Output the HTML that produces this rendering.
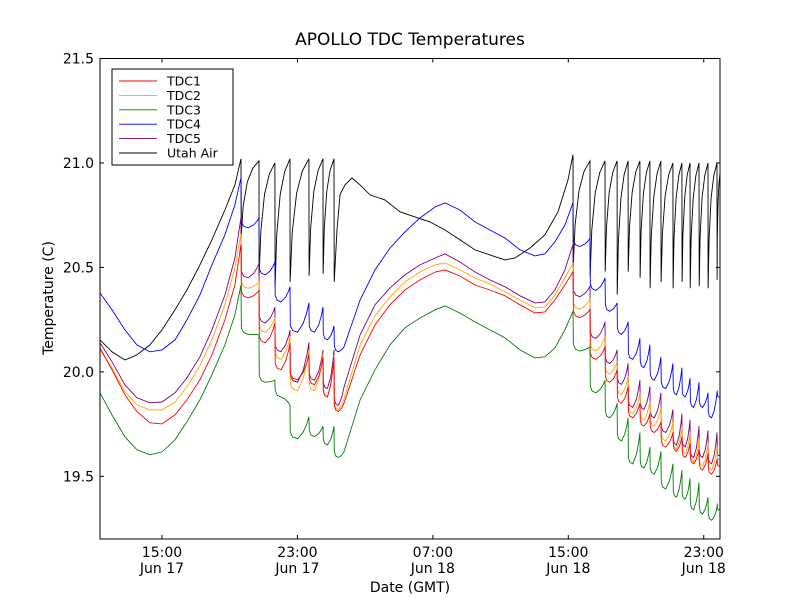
<!DOCTYPE html>
<html><head><meta charset="utf-8"><style>
body{margin:0;background:#fff;}
svg{display:block;font-family:"DejaVu Sans","Liberation Sans",sans-serif;}
</style></head><body>
<svg id="chart" width="800" height="600" viewBox="0 0 800 600">
<rect x="0" y="0" width="800" height="600" fill="#fff"/>
<text x="410" y="45" font-size="17" text-anchor="middle">APOLLO TDC Temperatures</text>
<text x="410" y="592" font-size="14" text-anchor="middle">Date (GMT)</text>
<text transform="translate(53,298) rotate(-90)" font-size="14" text-anchor="middle">Temperature (C)</text>
<g id="series"></g>
<g id="axes"></g>
<g id="legend"></g>
</svg>
<script>
// ---- data ----
const yTicks=[19.5,20.0,20.5,21.0,21.5];
const yTickLabels=["19.5","20.0","20.5","21.0","21.5"];
const xTicks=[15,23,31,39,47];
const xTickLabels1=["15:00","23:00","07:00","15:00","23:00"];
const xTickLabels2=["Jun 17","Jun 17","Jun 18","Jun 18","Jun 18"];

const preTimes=[11.34,12.05,12.81,13.52,14.29,15.0,15.77,16.47,17.24,17.95,18.72,19.31];
const teethA=[19.67,20.73,21.67,22.56,23.68,24.51,25.16];
const midTimes=[25.81,26.70,27.58,28.47,29.35,30.24,31.13,31.72,32.60,33.49,34.37,35.26,36.15,37.03,37.62,38.21,38.80];
const teethB=[39.28,40.28,41.17,41.88,42.53,43.23,43.82,44.47,45.18,45.71,46.19,46.72,47.25,47.78];
const endTime=47.96;

// TDC1 (red)
const tdc1Pre=[20.115,20.01,19.89,19.81,19.756,19.751,19.794,19.866,19.962,20.081,20.249,20.416];
const tdc1PeakA=[20.61,20.39,20.234,20.139,20.081,20.07,20.07];
const tdc1TroughA=[20.354,20.139,20.01,19.962,19.938,19.88,19.81];
const tdc1Mid=[19.866,20.081,20.225,20.321,20.392,20.44,20.478,20.488,20.459,20.416,20.392,20.364,20.321,20.282,20.287,20.344,20.416];
const tdc1PeakB=[20.48,20.30,20.12,20.01,19.93,19.85,19.80,19.76,19.71,19.69,19.66,19.63,19.61,19.58];
const tdc1TroughB=[20.26,20.06,19.95,19.85,19.78,19.74,19.71,19.64,19.62,19.59,19.56,19.53,19.51,19.55];
// TDC2 (orange)
const tdc2Pre=[20.105,20.019,19.904,19.842,19.818,19.818,19.856,19.928,20.029,20.153,20.321,20.498];
const tdc2PeakA=[20.66,20.43,20.26,20.17,20.105,20.09,20.08];
const tdc2TroughA=[20.40,20.19,20.06,19.91,19.91,19.88,19.82];
const tdc2Mid=[19.89,20.129,20.268,20.359,20.431,20.478,20.512,20.522,20.488,20.45,20.421,20.383,20.344,20.306,20.311,20.368,20.45];
const tdc2PeakB=[20.52,20.35,20.17,20.05,19.98,19.90,19.86,19.83,19.76,19.74,19.71,19.68,19.66,19.64];
const tdc2TroughB=[20.30,20.10,19.99,19.89,19.80,19.77,19.74,19.67,19.63,19.61,19.57,19.55,19.53,19.58];
// TDC3 (green)
const tdc3Pre=[19.9,19.794,19.689,19.627,19.603,19.617,19.675,19.761,19.866,19.986,20.129,20.273];
const tdc3PeakA=[20.416,20.177,19.96,19.84,19.785,19.74,19.74];
const tdc3TroughA=[20.18,19.95,19.88,19.68,19.69,19.65,19.59];
const tdc3Mid=[19.627,19.866,20.01,20.129,20.211,20.258,20.297,20.316,20.282,20.239,20.201,20.163,20.105,20.067,20.072,20.115,20.201];
const tdc3PeakB=[20.29,20.12,19.96,19.85,19.78,19.71,19.64,19.62,19.56,19.53,19.49,19.47,19.40,19.35];
const tdc3TroughB=[20.10,19.90,19.78,19.67,19.56,19.54,19.51,19.44,19.40,19.39,19.34,19.32,19.29,19.34];
// TDC4 (blue)
const tdc4Pre=[20.378,20.297,20.201,20.129,20.096,20.105,20.153,20.249,20.368,20.512,20.656,20.799];
const tdc4PeakA=[20.93,20.737,20.526,20.407,20.33,20.31,20.22];
const tdc4TroughA=[20.689,20.464,20.335,20.19,20.19,20.153,20.096];
const tdc4Mid=[20.129,20.344,20.488,20.593,20.67,20.737,20.789,20.809,20.775,20.718,20.679,20.641,20.584,20.555,20.565,20.622,20.703];
const tdc4PeakB=[20.81,20.64,20.45,20.33,20.24,20.16,20.13,20.07,20.04,20.02,19.97,19.95,19.90,19.90];
const tdc4TroughB=[20.60,20.39,20.29,20.18,20.06,20.02,19.96,19.92,19.89,19.88,19.83,19.83,19.78,19.88];
// TDC5 (purple)
const tdc5Pre=[20.139,20.048,19.938,19.876,19.852,19.856,19.9,19.971,20.072,20.201,20.368,20.545];
const tdc5PeakA=[20.74,20.52,20.31,20.20,20.14,20.105,20.105];
const tdc5TroughA=[20.45,20.234,20.096,19.95,19.96,19.92,19.84];
const tdc5Mid=[19.962,20.177,20.321,20.402,20.464,20.512,20.545,20.565,20.526,20.478,20.44,20.407,20.364,20.33,20.335,20.392,20.488];
const tdc5PeakB=[20.61,20.41,20.24,20.105,20.04,19.96,19.93,19.90,19.82,19.80,19.77,19.74,19.72,19.71];
const tdc5TroughB=[20.36,20.16,20.04,19.94,19.83,19.82,19.78,19.71,19.65,19.64,19.59,19.59,19.56,19.60];
// Utah Air (black)
const airPre=[20.153,20.096,20.057,20.081,20.129,20.201,20.297,20.392,20.512,20.632,20.775,20.895];
const airPeakA=[21.02,21.01,21.0,21.02,21.02,21.02,21.02];
const airBottomA=[20.65,20.46,20.41,20.43,20.46,20.47,20.43];
const airMidTimes=[25.34,25.52,25.81,26.22,26.70,27.29,28.17,29.06,29.94,30.83,31.72,32.60,33.49,34.37,35.26,35.85,36.74,37.62,38.39,38.98];
const airMid=[20.68,20.85,20.895,20.928,20.895,20.847,20.823,20.766,20.742,20.718,20.679,20.632,20.584,20.56,20.536,20.545,20.593,20.656,20.766,20.919];
const airPeakB=[21.04,21.01,21.01,21.01,21.01,21.01,21.01,21.01,21.0,21.0,21.0,21.0,21.0,21.0];
const airBottomB=[20.50,20.46,20.48,20.37,20.48,20.45,20.40,20.43,20.40,20.43,20.40,20.41,20.40,20.44];
const airEnd=20.95;

// ---- axes functions ----
const X0=100,X1=720,Y0=58.5,Y1=539;
const tMin=11.34,tMax=47.96,vMin=19.2,vMax=21.5;
function tx(t){return X0+(t-tMin)/(tMax-tMin)*(X1-X0);}
function yv(v){return Y1-(v-vMin)/(vMax-vMin)*(Y1-Y0);}

function tdcPoints(pre,peakA,trA,mid,peakB,trB){
  const p=[];
  preTimes.forEach((t,i)=>p.push([t,pre[i]]));
  function teeth(times,peaks,troughs,nextT,nextV){
    for(let i=0;i<times.length;i++){
      const t=times[i],nt=i<times.length-1?times[i+1]:nextT,nv=i<times.length-1?peaks[i+1]:nextV;
      const dt=nt-t;
      p.push([t,peaks[i]]);
      p.push([t+0.02,troughs[i]+0.03]);
      p.push([t+0.15*dt,troughs[i]+0.008]);
      p.push([t+0.4*dt,troughs[i]]);
      p.push([t+0.7*dt,troughs[i]+0.3*(nv-troughs[i])]);
      p.push([t+0.9*dt,troughs[i]+0.7*(nv-troughs[i])]);
    }
  }
  teeth(teethA,peakA,trA,midTimes[0],mid[0]);
  midTimes.forEach((t,i)=>{if(i>0)p.push([t,mid[i]]);});
  teeth(teethB,peakB,trB,endTime,trB[trB.length-1]);
  p.push([endTime,trB[trB.length-1]]);
  return p;
}
function airPoints(){
  const p=[];
  preTimes.forEach((t,i)=>p.push([t,airPre[i]]));
  function teeth(times,peaks,bottoms,nextT,nextV){
    for(let i=0;i<times.length;i++){
      const t=times[i],nt=i<times.length-1?times[i+1]:nextT,nv=i<times.length-1?peaks[i+1]:nextV;
      const dt=nt-t,b=bottoms[i];
      p.push([t,peaks[i]]);
      p.push([t+0.01,b]);
      if(i<times.length-1||nextT!==airMidTimes[0]){
        p.push([t+0.12*dt,b+0.4*(nv-b)]);
        p.push([t+0.35*dt,b+0.72*(nv-b)]);
        p.push([t+0.65*dt,b+0.9*(nv-b)]);
      }
    }
  }
  teeth(teethA,airPeakA,airBottomA,airMidTimes[0],airMid[0]);
  airMidTimes.forEach((t,i)=>p.push([t,airMid[i]]));
  teeth(teethB,airPeakB,airBottomB,endTime,airEnd);
  p.push([endTime,airEnd]);
  return p;
}
const NS="http://www.w3.org/2000/svg";
const sg=document.getElementById('series');
const clip=document.createElementNS(NS,'clipPath');clip.setAttribute('id','pc');
const cr=document.createElementNS(NS,'rect');cr.setAttribute('x',X0);cr.setAttribute('y',Y0);cr.setAttribute('width',X1-X0);cr.setAttribute('height',Y1-Y0);
clip.appendChild(cr);document.getElementById('chart').appendChild(clip);
sg.setAttribute('clip-path','url(#pc)');
function drawLine(pts,color,name){
  const el=document.createElementNS(NS,'polyline');
  el.setAttribute('points',pts.map(q=>tx(q[0]).toFixed(1)+','+yv(q[1]).toFixed(1)).join(' '));
  el.setAttribute('fill','none');el.setAttribute('stroke',color);el.setAttribute('stroke-width','0.9');
  
  
  sg.appendChild(el);
}
drawLine(airPoints(),'#000','utah-air-line');
drawLine(tdcPoints(tdc4Pre,tdc4PeakA,tdc4TroughA,tdc4Mid,tdc4PeakB,tdc4TroughB),'#0000ff','tdc4-line');
drawLine(tdcPoints(tdc5Pre,tdc5PeakA,tdc5TroughA,tdc5Mid,tdc5PeakB,tdc5TroughB),'#800080','tdc5-line');
drawLine(tdcPoints(tdc2Pre,tdc2PeakA,tdc2TroughA,tdc2Mid,tdc2PeakB,tdc2TroughB),'#ffa500','tdc2-line');
drawLine(tdcPoints(tdc1Pre,tdc1PeakA,tdc1TroughA,tdc1Mid,tdc1PeakB,tdc1TroughB),'#ff0000','tdc1-line');
drawLine(tdcPoints(tdc3Pre,tdc3PeakA,tdc3TroughA,tdc3Mid,tdc3PeakB,tdc3TroughB),'#008000','tdc3-line');

// axes
const ax=document.getElementById('axes');
let h='<rect x="'+X0+'" y="'+Y0+'" width="'+(X1-X0)+'" height="'+(Y1-Y0)+'" fill="none" stroke="#000" stroke-width="1"/>';
yTicks.forEach((v,i)=>{const y=yv(v);
  h+='<line x1="'+X0+'" y1="'+y+'" x2="'+(X0+4)+'" y2="'+y+'" stroke="#000"/>';
  h+='<line x1="'+X1+'" y1="'+y+'" x2="'+(X1-4)+'" y2="'+y+'" stroke="#000"/>';
  h+='<text x="'+(X0-6)+'" y="'+(y+5)+'" font-size="14" text-anchor="end">'+yTickLabels[i]+'</text>';});
xTicks.forEach((t,i)=>{const x=tx(t);
  h+='<line x1="'+x+'" y1="'+Y1+'" x2="'+x+'" y2="'+(Y1-4)+'" stroke="#000"/>';
  h+='<line x1="'+x+'" y1="'+Y0+'" x2="'+x+'" y2="'+(Y0+4)+'" stroke="#000"/>';
  h+='<text x="'+x+'" y="'+(Y1+18)+'" font-size="14" text-anchor="middle">'+xTickLabels1[i]+'</text>';
  h+='<text x="'+x+'" y="'+(Y1+34)+'" font-size="14" text-anchor="middle">'+xTickLabels2[i]+'</text>';});
ax.innerHTML=h;

// legend
const legNames=["TDC1","TDC2","TDC3","TDC4","TDC5","Utah Air"];
const legColors=["#ff0000","#ffa500","#008000","#0000ff","#800080","#000"];
let lg='<rect x="112" y="69" width="121" height="96" fill="#fff" stroke="#000" stroke-width="1"/>';
legNames.forEach((n,i)=>{const y=81+i*14.4;
  lg+='<g><line x1="119" y1="'+y+'" x2="157" y2="'+y+'" stroke="'+legColors[i]+'" stroke-width="0.9"/>';
  lg+='<text x="167" y="'+(y+4.5)+'" font-size="12.5">'+n+'</text></g>';});
document.getElementById('legend').innerHTML=lg;
</script>
</body></html>
